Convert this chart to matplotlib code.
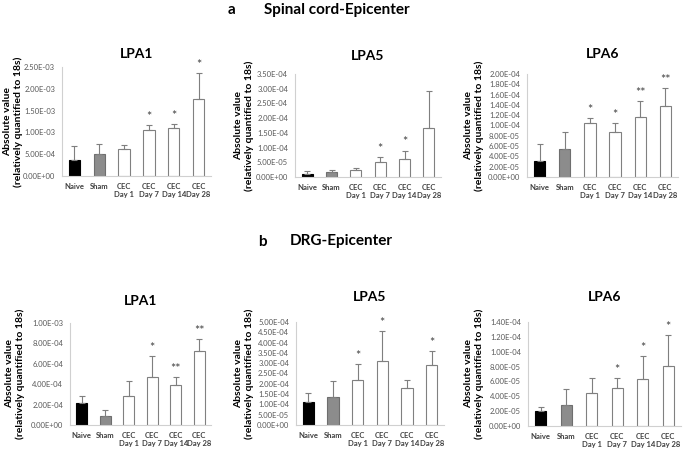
import matplotlib.pyplot as plt
from matplotlib.ticker import FuncFormatter

plt.rcParams['font.family'] = ['Lato', 'DejaVu Sans']

groups = ["Naive", "Sham", "CEC\nDay 1", "CEC\nDay 7", "CEC\nDay 14", "CEC\nDay 28"]

# spinal cord epicenter
sc_lpa1 = [3.7e-4, 5.0e-4, 6.3e-4, 1.05e-3, 1.10e-3, 1.76e-3]
sc_lpa1_err = [3.2e-4, 2.4e-4, 0.8e-4, 1.2e-4, 0.9e-4, 6.0e-4]
sc_lpa1_sig = ["", "", "", "*", "*", "*"]

sc_lpa5 = [1.0e-5, 1.6e-5, 2.3e-5, 5.1e-5, 6.25e-5, 1.67e-4]
sc_lpa5_err = [1.0e-5, 0.9e-5, 0.7e-5, 1.6e-5, 2.75e-5, 1.25e-4]
sc_lpa5_sig = ["", "", "", "*", "*", ""]

sc_lpa6 = [3.1e-5, 5.5e-5, 1.05e-4, 8.8e-5, 1.17e-4, 1.385e-4]
sc_lpa6_err = [3.3e-5, 3.2e-5, 0.9e-5, 1.75e-5, 3.1e-5, 3.45e-5]
sc_lpa6_sig = ["", "", "*", "*", "**", "**"]

# DRG epicenter
drg_lpa1 = [2.13e-4, 0.89e-4, 2.85e-4, 4.75e-4, 3.97e-4, 7.28e-4]
drg_lpa1_err = [0.72e-4, 0.55e-4, 1.51e-4, 1.97e-4, 0.72e-4, 1.11e-4]
drg_lpa1_sig = ["", "", "", "*", "**", "**"]

drg_lpa5 = [1.12e-4, 1.34e-4, 2.18e-4, 3.11e-4, 1.78e-4, 2.90e-4]
drg_lpa5_err = [0.45e-4, 0.80e-4, 0.77e-4, 1.45e-4, 0.40e-4, 0.71e-4]
drg_lpa5_sig = ["", "", "*", "*", "", "*"]

drg_lpa6 = [2.03e-5, 2.85e-5, 4.47e-5, 5.15e-5, 6.3e-5, 8.1e-5]
drg_lpa6_err = [0.57e-5, 2.12e-5, 1.93e-5, 1.25e-5, 3.1e-5, 4.1e-5]
drg_lpa6_sig = ["", "", "", "*", "*", "*"]

W, H = 685, 450
fig = plt.figure(figsize=(6.85, 4.5), dpi=100)

fills = ["black", "#8c8c8c", "white", "white", "white", "white"]
edges = ["black", "#6e6e6e", "#808080", "#808080", "#808080", "#808080"]


def panel(px, title, vals, errs, sig, ymax, step, ylab_x, tpad):
    # px = left, top, right, bottom in pixels
    l, t, r, b = px
    ax = fig.add_axes([l / W, 1 - b / H, (r - l) / W, (b - t) / H])
    x = range(len(groups))
    ax.bar(x, vals, width=0.45, color=fills, edgecolor=edges, linewidth=0.8, zorder=2)
    ax.errorbar(x, vals, yerr=[[0] * len(vals), errs], fmt="none", ecolor="#7f7f7f",
                elinewidth=0.8, capsize=2, capthick=0.8, zorder=3)
    for i, s in enumerate(sig):
        if s:
            ax.text(i, vals[i] + errs[i] + ymax * 0.02, s, ha="center", va="bottom",
                    fontsize=9, color="#404040")
    ax.set_xlim(-0.5, len(groups) - 0.5)
    ax.set_ylim(0, ymax)
    ticks = [k * step for k in range(int(round(ymax / step)) + 1)]
    ax.set_yticks(ticks)
    ax.yaxis.set_major_formatter(FuncFormatter(lambda v, p: f"{v:.2E}"))
    ax.set_xticks(list(x))
    ax.set_xticklabels(groups, fontsize=5.5, fontweight="bold", color="#404040", linespacing=1.15)
    ax.tick_params(axis="y", length=0, labelsize=5.5, labelcolor="#595959", pad=5)
    ax.tick_params(axis="x", length=0, pad=5)
    for sp in ["top", "right"]:
        ax.spines[sp].set_visible(False)
    for sp in ["left", "bottom"]:
        ax.spines[sp].set_color("#d0d0d0")
        ax.spines[sp].set_linewidth(0.8)
    ax.set_title(title, fontsize=10, fontweight="bold", pad=tpad)
    fig.text(ylab_x / W, 1 - (t + b) / 2 / H, "Absolute value\n(relatively quantified to 18s)",
             rotation=90, ha="center", va="center", fontsize=7.5, fontweight="bold",
             multialignment="center", linespacing=1.1)
    return ax


panel((62, 67, 211, 176), "LPA1", sc_lpa1, sc_lpa1_err, sc_lpa1_sig, 2.5e-3, 5e-4, 13, 6.5)
panel((295, 74, 441, 177), "LPA5", sc_lpa5, sc_lpa5_err, sc_lpa5_sig, 3.5e-4, 5e-5, 244, 10)
panel((527, 74, 678, 177), "LPA6", sc_lpa6, sc_lpa6_err, sc_lpa6_sig, 2.0e-4, 2e-5, 474, 11.5)

panel((70, 323, 211, 425), "LPA1", drg_lpa1, drg_lpa1_err, drg_lpa1_sig, 1.0e-3, 2e-4, 15, 13)
panel((296, 322, 444, 425), "LPA5", drg_lpa5, drg_lpa5_err, drg_lpa5_sig, 5.0e-4, 5e-5, 244, 15)
panel((528, 322, 681, 426), "LPA6", drg_lpa6, drg_lpa6_err, drg_lpa6_sig, 1.4e-4, 2e-5, 474, 15)

fig.text(232 / W, 1 - 10 / H, "a", fontsize=11, fontweight="bold", ha="center", va="center")
fig.text(337 / W, 1 - 10 / H, "Spinal cord-Epicenter", fontsize=11, fontweight="bold",
         ha="center", va="center")
fig.text(262 / W, 1 - 242 / H, "b", fontsize=11, fontweight="bold", ha="center", va="center")
fig.text(341 / W, 1 - 241 / H, "DRG-Epicenter", fontsize=11, fontweight="bold",
         ha="center", va="center")

fig.savefig("out.png", dpi=100, facecolor="white")
